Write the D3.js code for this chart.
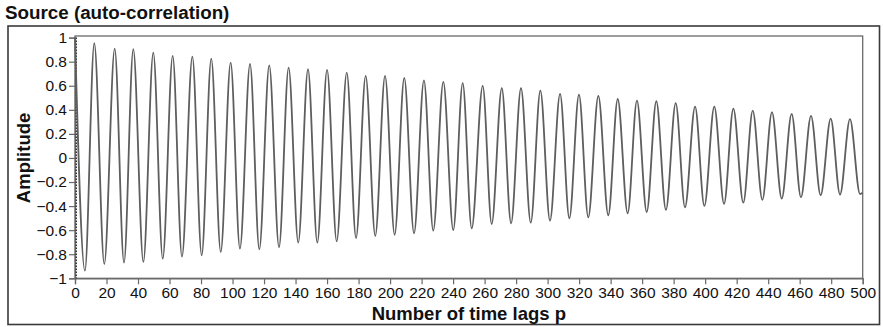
<!DOCTYPE html>
<html><head><meta charset="utf-8">
<script src="https://cdn.jsdelivr.net/npm/d3@7"></script>
<style>
html,body{margin:0;padding:0;background:#fff;}
svg{display:block;}
text{font-family:"Liberation Sans",Arial,Helvetica,sans-serif;}
</style></head>
<body><svg id="chart" width="883" height="327"></svg>
<script>
// ---- data ----
const startPoint = {lag: 0, value: 1.0};
const peakLags = [12.25,25.2,37.0,49.7,62.0,74.5,86.5,98.8,111.1,123.3,135.6,147.9,160.0,172.5,184.5,196.8,209.0,221.5,233.8,246.1,258.8,270.9,283.1,295.4,307.9,319.9,332.2,344.5,356.7,369.0,381.3,393.6,405.8,417.9,430.2,442.4,454.9,467.2,479.7,491.9];
const peakValues = [0.953,0.909,0.903,0.875,0.848,0.842,0.825,0.792,0.781,0.770,0.751,0.737,0.732,0.709,0.682,0.682,0.665,0.645,0.632,0.621,0.599,0.579,0.579,0.560,0.532,0.526,0.515,0.490,0.476,0.471,0.455,0.427,0.427,0.410,0.393,0.380,0.366,0.349,0.327,0.322];
const troughLags = [6.3,18.6,31.1,43.4,55.7,67.9,80.4,92.5,104.7,117.0,129.5,141.7,153.8,166.1,178.4,190.6,202.9,215.2,227.4,240.1,251.8,264.5,276.8,289.3,301.5,313.8,325.8,338.5,350.8,362.9,375.1,387.2,399.5,412.0,424.2,436.3,448.6,460.8,473.3,485.6,498.3];
const troughValues = [-0.937,-0.881,-0.870,-0.864,-0.837,-0.820,-0.809,-0.781,-0.754,-0.759,-0.742,-0.704,-0.704,-0.693,-0.665,-0.648,-0.638,-0.626,-0.604,-0.599,-0.585,-0.549,-0.543,-0.538,-0.521,-0.501,-0.493,-0.476,-0.460,-0.449,-0.432,-0.410,-0.399,-0.382,-0.372,-0.349,-0.338,-0.327,-0.310,-0.305,-0.300];
const endPoint = {lag: 500, value: -0.29};
const xTickValues = [0,20,40,60,80,100,120,140,160,180,200,220,240,260,280,300,320,340,360,380,400,420,440,460,480,500];
const yTickValues = [-1,-0.8,-0.6,-0.4,-0.2,0,0.2,0.4,0.6,0.8,1];
const titleText = "Source (auto-correlation)";
const xLabel = "Number of time lags p";
const yLabel = "Amplitude";

// ---- build series ----
const series = [startPoint]
  .concat(peakLags.map((l,i)=>({lag:l, value:peakValues[i]})))
  .concat(troughLags.map((l,i)=>({lag:l, value:troughValues[i]})))
  .concat([endPoint])
  .sort((a,b)=>a.lag-b.lag);

const svg = d3.select("#chart");
const x = d3.scaleLinear().domain([0,500]).range([75,862.7]);
const y = d3.scaleLinear().domain([-1,1]).range([278.3,37.6]);

// outer frame
svg.append("rect").attr("x",8).attr("y",26).attr("width",871.5).attr("height",298.5)
  .attr("fill","none").attr("stroke","#3a3a3a").attr("stroke-width",1.6);

// title
svg.append("text").attr("x",5).attr("y",19).attr("font-size",18.8).attr("font-weight","bold")
  .attr("fill","#111").text(titleText);

// plot box
svg.append("rect").attr("x",x(0)).attr("y",36).attr("width",x(500)-x(0)).attr("height",y(-1)-36)
  .attr("fill","none").attr("stroke","#6a6a6a").attr("stroke-width",1.3);

// axes
const fmt = d => d < 0 ? "\u2212" + Math.abs(d) : String(d);
const yAxis = svg.append("g").attr("transform",`translate(${x(0)},0)`)
  .call(d3.axisLeft(y).tickValues(yTickValues).tickFormat(fmt).tickSize(6).tickPadding(2));
const xAxis = svg.append("g").attr("transform",`translate(0,${y(-1)})`)
  .call(d3.axisBottom(x).tickValues(xTickValues).tickFormat(fmt).tickSize(6).tickPadding(3));
[yAxis,xAxis].forEach(g=>{
  g.select(".domain").attr("stroke","#6a6a6a").attr("stroke-width",1.3);
  g.selectAll(".tick line").attr("stroke","#6a6a6a").attr("stroke-width",1.2);
  g.selectAll(".tick text").attr("fill","#111").attr("font-size",15.5)
   .attr("font-family","'Liberation Sans',Arial,sans-serif");
});

// dotted line at lag 0
svg.append("line").attr("x1",x(0)+1.3).attr("x2",x(0)+1.3).attr("y1",y(1)).attr("y2",y(-1))
  .attr("stroke","#222").attr("stroke-width",1.2).attr("stroke-dasharray","1.5,1.5");

// the curve
const line = d3.line().x(d=>x(d.lag)).y(d=>y(d.value)).curve(d3.curveMonotoneX);
svg.append("path").datum(series).attr("d",line).attr("fill","none")
  .attr("stroke","#5e5e5e").attr("stroke-width",1.8).attr("stroke-linejoin","round");

// axis titles
svg.append("text").attr("x",(x(0)+x(500))/2).attr("y",320).attr("text-anchor","middle")
  .attr("font-size",18.5).attr("font-weight","bold").attr("fill","#111").text(xLabel);
svg.append("text").attr("transform",`translate(30,${y(0)}) rotate(-90)`).attr("text-anchor","middle")
  .attr("font-size",18.5).attr("font-weight","bold").attr("fill","#111").text(yLabel);
</script></body></html>
